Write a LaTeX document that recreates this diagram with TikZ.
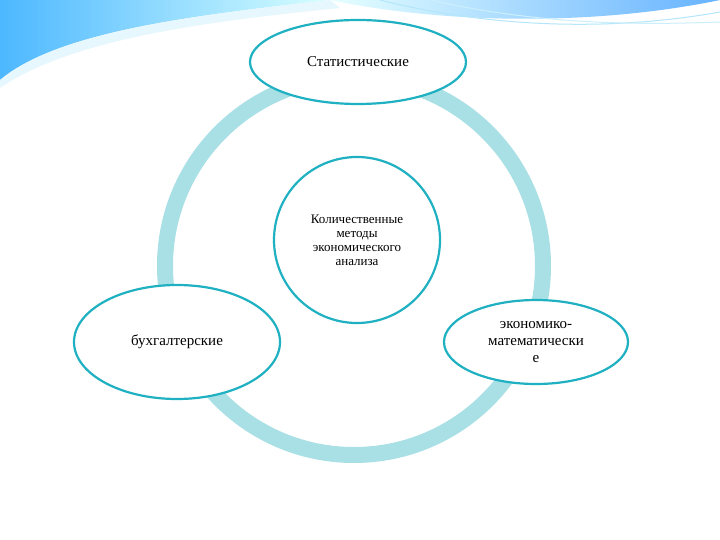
\documentclass[tikz,border=0pt]{standalone}
\usepackage{fontspec}
\usetikzlibrary{shapes.geometric}
\setmainfont{Liberation Serif}
\definecolor{ringc}{HTML}{A8E0E6}
\definecolor{edgec}{HTML}{1FB0C2}
\begin{document}
\begin{tikzpicture}[x=1pt,y=-1pt,
  el/.style={draw=edgec,line width=2.2pt,fill=white,align=center,font=\fontsize{15}{17}\selectfont}]
\useasboundingbox (0,0) rectangle (720,540);
\fill[white] (0,0) rectangle (720,540);
% decoration
\shade[left color=cyan!60!blue!70,right color=cyan!15] (0,0) -- (330,0) .. controls (200,15) and (60,30) .. (0,80) -- cycle;
\fill[cyan!10] (330,0) .. controls (200,15) and (60,30) .. (0,80) -- (0,88) .. controls (70,40) and (200,22) .. (340,8) -- cycle;
\shade[left color=cyan!10,right color=cyan!50!blue!60] (330,0) .. controls (450,25) and (600,25) .. (720,0) -- cycle;
\draw[cyan!30,line width=1pt] (380,0) .. controls (500,30) and (620,30) .. (720,12);
\draw[cyan!20,line width=1pt] (430,0) .. controls (540,25) and (640,25) .. (720,22);
% ring
\draw[ringc,line width=16pt] (354,266) circle (189);
\node[el,ellipse,minimum width=216,minimum height=84] (top) at (358,62) {Статистические};
\node[el,circle,minimum size=166,inner sep=0pt,font=\fontsize{13}{14}\selectfont] (mid) at (357,240) {Количественные\\методы\\экономического\\анализа};
\node[el,ellipse,minimum width=206,minimum height=114] (left) at (177,342) {бухгалтерские};
\node[el,ellipse,minimum width=184,minimum height=84,inner sep=0pt] (right) at (536,342) {экономико-\\математически\\е};
\end{tikzpicture}
\end{document}
